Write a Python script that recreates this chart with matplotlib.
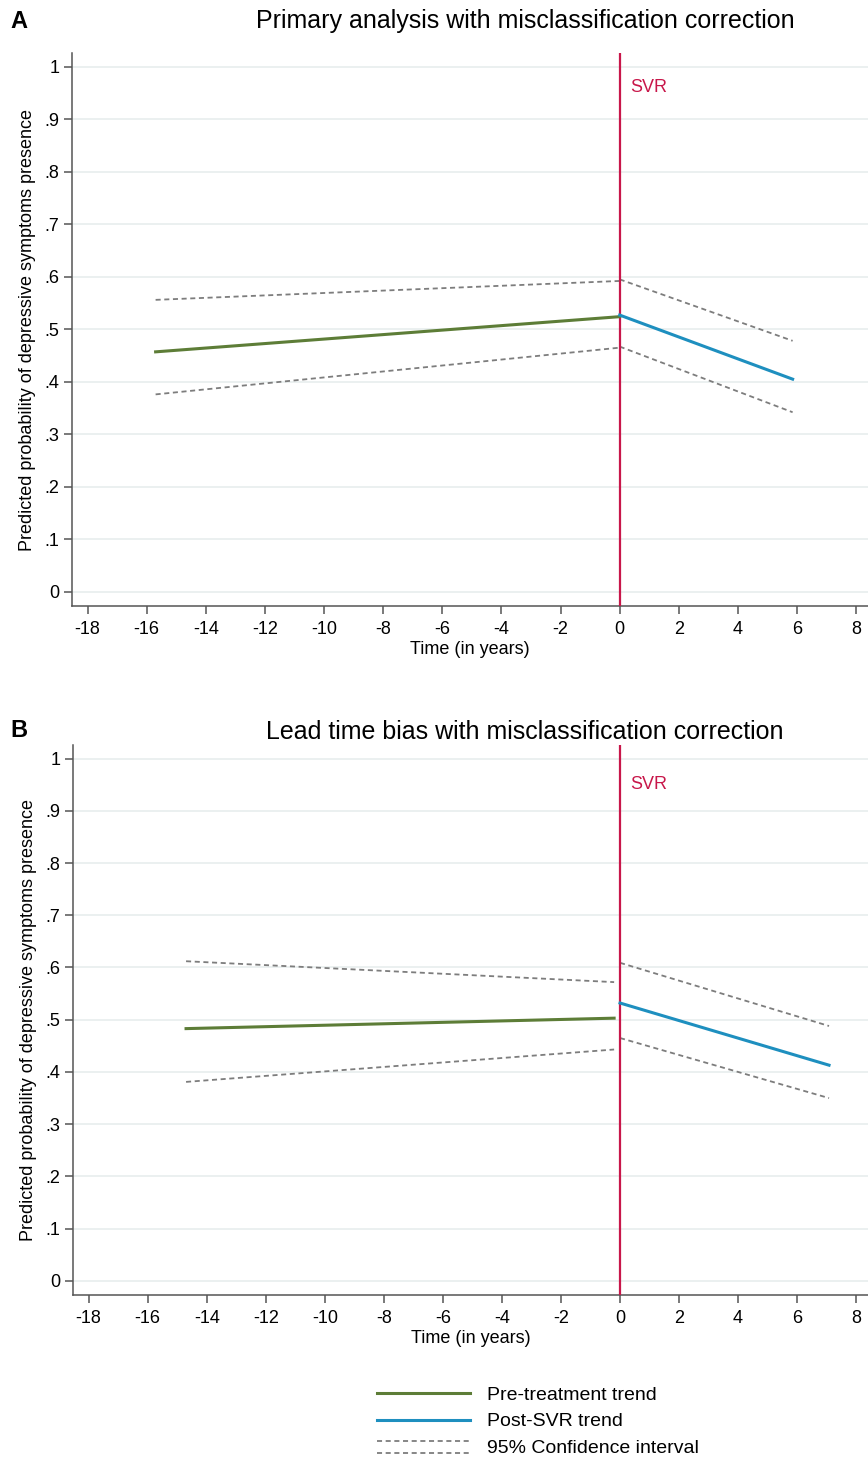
import matplotlib
matplotlib.use("Agg")
import matplotlib.pyplot as plt
from matplotlib.lines import Line2D
from matplotlib.legend_handler import HandlerBase

plt.rcParams['font.family'] = ['Liberation Sans', 'DejaVu Sans']
plt.rcParams['axes.unicode_minus'] = False

# panel A: primary analysis
pre_time_a = [-15.7, 0.0]
pre_fit_a = [0.457, 0.524]
pre_hi_a = [0.556, 0.592]
pre_lo_a = [0.376, 0.465]
post_time_a = [0.0, 5.85]
post_fit_a = [0.527, 0.405]
post_hi_a = [0.595, 0.478]
post_lo_a = [0.467, 0.342]

# panel B: lead time bias
pre_time_b = [-14.7, -0.2]
pre_fit_b = [0.483, 0.503]
pre_hi_b = [0.612, 0.572]
pre_lo_b = [0.381, 0.443]
post_time_b = [0.0, 7.08]
post_fit_b = [0.532, 0.413]
post_hi_b = [0.609, 0.488]
post_lo_b = [0.465, 0.350]

x_ticks = list(range(-18, 9, 2))
y_ticks = [i / 10 for i in range(11)]
y_labels = ['0', '.1', '.2', '.3', '.4', '.5', '.6', '.7', '.8', '.9', '1']

GREEN = '#5d7d37'
BLUE = '#1e8fbf'
RED = '#c8174a'
GREY = '#7d7d7d'
SPINE = '#555555'


class DoubleLine(HandlerBase):
    # CI entry in the legend shows both bounds, stacked
    def create_artists(self, legend, orig_handle, xdescent, ydescent,
                       width, height, fontsize, trans):
        arts = []
        for frac in (0.9, 0.0):
            ln = Line2D([-xdescent, -xdescent + width],
                        [frac * height - ydescent] * 2)
            self.update_prop(ln, orig_handle, legend)
            ln.set_transform(trans)
            arts.append(ln)
        return arts


def draw_panel(ax, pre_t, pre_f, pre_h, pre_l, post_t, post_f, post_h, post_l, svr_y):
    ax.set_xlim(-18.53, 8.40)
    ax.set_ylim(-0.027, 1.026)
    for y in y_ticks:
        ax.axhline(y, color='#e8eeee', lw=1.2, zorder=0)
    ax.axvline(0, color=RED, lw=1.6, zorder=3)
    ax.text(0.35, svr_y, 'SVR', color=RED, fontsize=13, va='center', ha='left')

    ci = dict(color=GREY, lw=1.3, dashes=(2.8, 2.0))
    ax.plot(pre_t, pre_h, **ci)
    ax.plot(pre_t, pre_l, **ci)
    ax.plot(post_t, post_h, **ci)
    ax.plot(post_t, post_l, **ci)
    ax.plot(pre_t, pre_f, color=GREEN, lw=2.2, zorder=4)
    ax.plot(post_t, post_f, color=BLUE, lw=2.2, zorder=4)

    ax.set_xticks(x_ticks)
    ax.set_yticks(y_ticks)
    ax.set_yticklabels(y_labels)
    ax.tick_params(axis='both', labelsize=13, color=SPINE, width=1.1)
    ax.tick_params(axis='y', length=6, pad=3)
    ax.tick_params(axis='x', length=6, pad=5)
    for s in ['top', 'right']:
        ax.spines[s].set_visible(False)
    for s in ['left', 'bottom']:
        ax.spines[s].set_color(SPINE)
        ax.spines[s].set_linewidth(1.1)
    ax.set_xlabel('Time (in years)', fontsize=13)
    ax.set_ylabel('Predicted probability of depressive symptoms presence', fontsize=13)
    ax.xaxis.set_label_coords(0.5, -0.063)
    ax.yaxis.set_label_coords(-0.045, 0.5)


fig = plt.figure(figsize=(8.68, 14.61), dpi=100)
ax1 = fig.add_axes([0.0829, 0.5852, 0.9171, 0.3785])
ax2 = fig.add_axes([0.0841, 0.1136, 0.9159, 0.3765])

draw_panel(ax1, pre_time_a, pre_fit_a, pre_hi_a, pre_lo_a,
           post_time_a, post_fit_a, post_hi_a, post_lo_a, 0.96)
draw_panel(ax2, pre_time_b, pre_fit_b, pre_hi_b, pre_lo_b,
           post_time_b, post_fit_b, post_hi_b, post_lo_b, 0.95)

fig.text(0.0115, 0.9856, 'A', fontsize=17, fontweight='bold', va='center', ha='left')
fig.text(0.605, 0.9856, 'Primary analysis with misclassification correction',
         fontsize=18, va='center', ha='center')
fig.text(0.0115, 0.4997, 'B', fontsize=17, fontweight='bold', va='center', ha='left')
fig.text(0.605, 0.4990, 'Lead time bias with misclassification correction',
         fontsize=18, va='center', ha='center')

h_pre = Line2D([], [], color=GREEN, lw=2.2)
h_post = Line2D([], [], color=BLUE, lw=2.2)
h_ci = Line2D([], [], color=GREY, lw=1.3, dashes=(2.8, 2.0))
fig.legend([h_pre, h_post, h_ci],
           ['Pre-treatment trend', 'Post-SVR trend', '95% Confidence interval'],
           handler_map={h_ci: DoubleLine()},
           loc='upper left', bbox_to_anchor=(0.434, 0.0514), frameon=False,
           fontsize=14, handlelength=4.8, handletextpad=0.85, labelspacing=0.48,
           borderpad=0, borderaxespad=0)

fig.savefig('out.png', dpi=100)
